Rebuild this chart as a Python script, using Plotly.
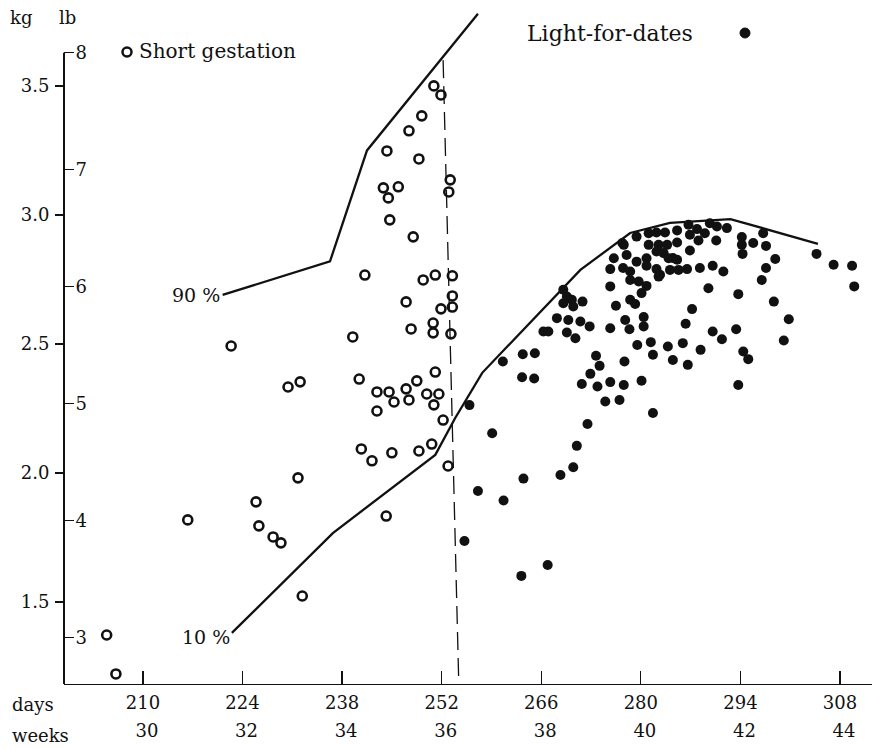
import plotly.graph_objects as go

# ---------------- data ----------------
short_days = [250.9, 251.9, 249.2, 247.4, 244.3, 248.8, 253.2, 253.0, 243.8, 245.9,
              244.5, 244.7, 248.0, 241.2, 249.4, 251.1, 253.5, 247.0, 253.5, 251.9,
              253.5, 247.7, 250.8, 250.8, 253.3, 222.4, 239.5, 230.4, 232.1, 240.4,
              251.1, 242.9, 244.6, 247.0, 248.5, 245.3, 247.4, 242.9, 249.9, 251.6,
              250.9, 252.2, 250.6, 248.8, 245.0, 240.7, 242.2, 252.9, 231.8, 225.9,
              216.3, 226.3, 228.3, 229.4, 244.2, 232.4, 204.9, 206.2]
short_kg = [3.500, 3.465, 3.384, 3.326, 3.248, 3.217, 3.136, 3.089, 3.105, 3.109,
            3.066, 2.981, 2.915, 2.767, 2.748, 2.767, 2.764, 2.663, 2.686, 2.636,
            2.643, 2.558, 2.581, 2.543, 2.539, 2.492, 2.527, 2.333, 2.353, 2.364,
            2.391, 2.314, 2.314, 2.326, 2.357, 2.275, 2.283, 2.240, 2.306, 2.306,
            2.264, 2.205, 2.112, 2.085, 2.078, 2.093, 2.047, 2.027, 1.981, 1.888,
            1.818, 1.795, 1.752, 1.729, 1.833, 1.523, 1.372, 1.221]

light_days = [279.4, 281.1, 282.2, 283.4, 285.1, 286.7, 287.9, 289.7, 290.7, 292.1,
              281.1, 282.5, 283.7, 285.1, 286.9, 288.1, 289.0, 290.6, 277.6, 278.0,
              279.4, 280.8, 282.2, 283.2, 283.9, 285.1, 286.9, 276.2, 275.7, 277.5,
              278.5, 280.8, 282.2, 282.7, 284.1, 285.3, 286.5, 288.3, 290.1, 291.6,
              278.5, 279.7, 280.8, 282.5, 275.7, 280.1, 278.5, 279.2, 276.5, 269.1,
              269.6, 270.3, 270.5, 271.8, 269.1, 268.2, 269.8, 271.5, 272.8, 269.6,
              270.8, 266.3, 267.0, 275.7, 277.8, 278.4, 280.4, 280.4, 260.6, 263.4,
              265.1, 263.3, 265.0, 273.7, 274.2, 272.9, 271.7, 273.9, 275.7, 277.6,
              280.1, 277.7, 279.5, 281.4, 281.7, 283.8, 284.5, 285.9, 286.6, 288.4,
              275.0, 277.0, 281.7, 287.2, 286.3, 289.5, 290.1, 291.4, 293.4, 293.7,
              294.4, 295.1, 293.7, 294.2, 294.2, 294.3, 295.8, 297.2, 297.6, 298.9,
              297.6, 297.0, 298.7, 300.8, 300.1, 304.7, 307.1, 309.7, 310.0, 255.9,
              259.1, 257.1, 260.7, 263.5, 268.7, 270.5, 271.0, 272.5, 255.2, 263.2,
              266.9, 284.5, 277.4]
light_kg = [2.916, 2.929, 2.932, 2.932, 2.940, 2.962, 2.945, 2.968, 2.955, 2.949,
            2.884, 2.884, 2.884, 2.893, 2.923, 2.901, 2.929, 2.901, 2.884, 2.845,
            2.819, 2.832, 2.858, 2.852, 2.832, 2.826, 2.862, 2.832, 2.790, 2.794,
            2.781, 2.803, 2.790, 2.768, 2.787, 2.787, 2.790, 2.794, 2.803, 2.781,
            2.748, 2.742, 2.725, 2.761, 2.723, 2.697, 2.671, 2.655, 2.648, 2.710,
            2.684, 2.671, 2.645, 2.664, 2.658, 2.600, 2.593, 2.587, 2.568, 2.544,
            2.522, 2.548, 2.548, 2.561, 2.593, 2.557, 2.604, 2.568, 2.432, 2.460,
            2.464, 2.371, 2.366, 2.454, 2.415, 2.384, 2.345, 2.335, 2.352, 2.341,
            2.357, 2.432, 2.496, 2.507, 2.458, 2.490, 2.438, 2.503, 2.419, 2.477,
            2.277, 2.283, 2.232, 2.635, 2.578, 2.716, 2.548, 2.518, 2.557, 2.693,
            2.471, 2.441, 2.341, 2.914, 2.884, 2.849, 2.891, 2.929, 2.880, 2.829,
            2.794, 2.748, 2.664, 2.596, 2.513, 2.849, 2.807, 2.803, 2.723, 2.263,
            2.154, 1.930, 1.893, 1.978, 1.992, 2.022, 2.105, 2.190, 1.736, 1.601,
            1.643, 2.833, 2.891]

p90_days = [221.2, 236.3, 241.5, 257.1]
p90_kg = [2.69, 2.82, 3.25, 3.78]
p10_days = [222.5, 236.7, 251.1, 253.9, 257.7, 271.5, 278.5, 284.1, 292.6, 304.9]
p10_kg = [1.38, 1.767, 2.07, 2.213, 2.388, 2.787, 2.93, 2.969, 2.984, 2.888]
divider_days = [252.2, 254.4]
divider_kg = [3.60, 1.19]

day_ticks = [210, 224, 238, 252, 266, 280, 294, 308]
week_ticks = [30, 32, 34, 36, 38, 40, 42, 44]
kg_ticks = [1.5, 2.0, 2.5, 3.0, 3.5]
kg_labels = ["1.5", "2.0", "2.5", "3.0", "3.5"]
lb_ticks = [3, 4, 5, 6, 7, 8]

LB = 0.45359237
X_RANGE = [198.9, 312.5]
Y_RANGE = [1.182, 3.802]
FONT = "DejaVu Serif"
INK = "#111111"
ML, MT, MB = 64, 8, 65
PW, PH = 872 - ML, 749 - MT - MB

fig = go.Figure()
fig.add_trace(go.Scatter(x=divider_days, y=divider_kg, mode="lines",
                         line=dict(color=INK, width=1.3, dash="18px,8px"),
                         hoverinfo="skip", showlegend=False))
fig.add_trace(go.Scatter(x=p90_days, y=p90_kg, mode="lines",
                         line=dict(color=INK, width=2.3), showlegend=False))
fig.add_trace(go.Scatter(x=p10_days, y=p10_kg, mode="lines",
                         line=dict(color=INK, width=2.3), showlegend=False))
fig.add_trace(go.Scatter(x=short_days, y=short_kg, mode="markers",
                         marker=dict(symbol="circle-open", size=9, color=INK,
                                     line=dict(width=2.6, color=INK)),
                         name="Short gestation", showlegend=False))
fig.add_trace(go.Scatter(x=light_days, y=light_kg, mode="markers",
                         marker=dict(symbol="circle", size=10, color=INK),
                         name="Light-for-dates", showlegend=False))
# invisible helpers so the secondary (lb / weeks) axes are drawn
fig.add_trace(go.Scatter(x=[day_ticks[0]], y=[lb_ticks[0]], yaxis="y2",
                         mode="markers", marker=dict(opacity=0), hoverinfo="skip",
                         showlegend=False))
fig.add_trace(go.Scatter(x=[week_ticks[0]], y=[kg_ticks[0]], xaxis="x2",
                         mode="markers", marker=dict(opacity=0), hoverinfo="skip",
                         showlegend=False))

tf = dict(family=FONT, size=18, color=INK)
fig.update_layout(
    template="none",
    width=872, height=749,
    margin=dict(l=ML, r=0, t=MT, b=MB, autoexpand=False),
    paper_bgcolor="white", plot_bgcolor="white",
    font=tf,
    showlegend=False,
    xaxis=dict(range=X_RANGE, tickvals=day_ticks, ticktext=[str(d) for d in day_ticks],
               ticks="inside", ticklen=13, tickwidth=1.3, tickcolor=INK,
               showline=True, linecolor=INK, linewidth=1.3, showgrid=False,
               zeroline=False, ticklabelstandoff=2, automargin=False, tickfont=tf),
    xaxis2=dict(range=[X_RANGE[0] / 7, X_RANGE[1] / 7], overlaying="x", anchor="y",
                side="bottom", tickvals=week_ticks, ticks="", showline=False,
                showgrid=False, zeroline=False, ticklabelstandoff=34,
                ticklabelshift=4, automargin=False, tickfont=tf),
    yaxis=dict(range=Y_RANGE, tickvals=kg_ticks, ticktext=kg_labels,
               ticks="outside", ticklen=8, tickwidth=1.2, tickcolor=INK,
               showline=False, showgrid=False, zeroline=False,
               ticklabelstandoff=2, automargin=False, tickfont=tf),
    yaxis2=dict(range=[Y_RANGE[0] / LB, Y_RANGE[1] / LB], overlaying="y", side="left",
                anchor="x", tickvals=lb_ticks, ticks="inside", ticklen=10, tickwidth=1.2,
                tickcolor=INK, ticklabelposition="inside", showline=False,
                showgrid=False, zeroline=False, ticklabelstandoff=2,
                automargin=False, tickfont=tf),
)

# vertical axis line, running only up to the 8 lb tick
fig.add_shape(type="line", xref="x domain", yref="y", x0=0, x1=0,
              y0=Y_RANGE[0], y1=lb_ticks[-1] * LB, line=dict(color=INK, width=2))


def px_x(p):
    return (p - ML) / PW


def px_y(p):
    return (MT + PH - p) / PH


# key symbols
fig.add_shape(type="circle", xref="paper", yref="paper", xsizemode="pixel",
              ysizemode="pixel", xanchor=px_x(127), yanchor=px_y(52),
              x0=-4.5, x1=4.5, y0=-4.5, y1=4.5, line=dict(color=INK, width=2.5))
fig.add_shape(type="circle", xref="paper", yref="paper", xsizemode="pixel",
              ysizemode="pixel", xanchor=px_x(745), yanchor=px_y(33),
              x0=-5, x1=5, y0=-5, y1=5, fillcolor=INK, line=dict(color=INK, width=1))

ann = [
    dict(text="kg", x=px_x(8), y=px_y(18), xanchor="left", size=18),
    dict(text="lb", x=px_x(57), y=px_y(18), xanchor="left", size=18),
    dict(text="Short gestation", x=px_x(137), y=px_y(51), xanchor="left", size=20),
    dict(text="Light-for-dates", x=px_x(525), y=px_y(34), xanchor="left", size=22),
    dict(text="days", x=px_x(10), y=px_y(704), xanchor="left", size=18),
    dict(text="weeks", x=px_x(10), y=px_y(735), xanchor="left", size=18),
]
for a in ann:
    size = a.pop("size")
    fig.add_annotation(xref="paper", yref="paper", showarrow=False, yanchor="middle",
                       font=dict(family=FONT, size=size, color=INK), **a)

fig.add_annotation(x=p90_days[0], y=p90_kg[0], xref="x", yref="y", text="90 %",
                   showarrow=False, xanchor="right", yanchor="middle", xshift=-1,
                   font=dict(family=FONT, size=19, color=INK))
fig.add_annotation(x=p10_days[0], y=p10_kg[0], xref="x", yref="y", text="10 %",
                   showarrow=False, xanchor="right", yanchor="middle", yshift=-4,
                   font=dict(family=FONT, size=19, color=INK))

fig.write_html("out.html",
               config={"displayModeBar": False, "staticPlot": True},
               post_script="document.body.style.margin='0px';"
                           "document.body.style.overflow='hidden';")
